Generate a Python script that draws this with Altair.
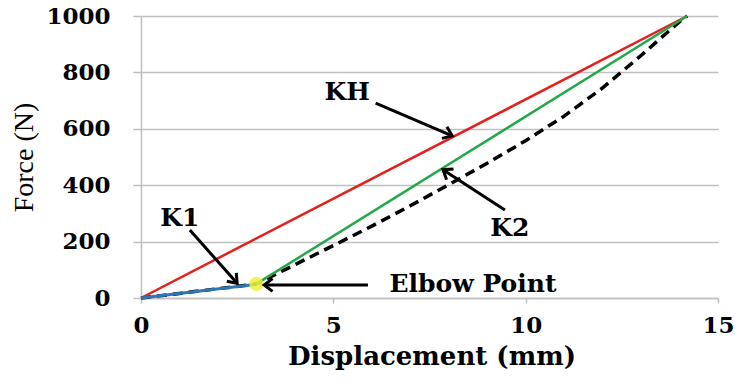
import math
import altair as alt
import pandas as pd

# ---- data ----
dashed_x = [0, 1, 2, 3, 4, 5, 6, 7, 8, 9, 10, 11, 12, 13, 14, 14.2]
dashed_y = [0, 16, 33, 50, 118, 186, 255, 327, 402, 478, 558, 645, 745, 860, 980, 1000]
kh_x = [0, 14.2]
kh_y = [0, 1000]
k2_x = [3.0, 14.2]
k2_y = [50, 1000]
k1_x = [0, 2.95]
k1_y = [0, 48]
elbow_x = [3.0]
elbow_y = [50]

label_text = ["KH", "K1", "K2", "Elbow Point"]
label_x = [5.36, 1.01, 9.59, 8.63]
label_y = [730, 284, 248, 48]

arrow_tail_x = [6.1, 1.27, 9.46, 5.9]
arrow_tail_y = [691, 241, 312, 46]
arrow_tip_x = [8.09, 2.5, 7.85, 3.2]
arrow_tip_y = [575, 52, 455, 46]

x_ticks = [0, 5, 10, 15]
y_ticks = [0, 200, 400, 600, 800, 1000]

W, H = 577, 282
XMAX, YMAX = 15, 1000
FONT = "DejaVu Serif"
GRID = "#bfbfbf"

xs = alt.Scale(domain=[0, XMAX], nice=False, zero=False)
ys = alt.Scale(domain=[0, YMAX], nice=False, zero=False)

xaxis = alt.Axis(values=x_ticks, grid=False, title="Displacement (mm)", format="d",
                 domainColor=GRID, domainWidth=1.5, tickColor=GRID, tickSize=5, tickWidth=1.5,
                 labelFont=FONT, labelFontWeight="bold", labelFontSize=23, labelColor="black",
                 labelPadding=11, labelFlush=False,
                 titleFont=FONT, titleFontWeight="bold", titleFontSize=26, titleColor="black",
                 titleBaseline="alphabetic", titleY=66, titleX=W / 2 + 2)
yaxis = alt.Axis(values=y_ticks, grid=True, gridColor=GRID, gridWidth=1.5, title="Force (N)",
                 format="d",
                 domainColor=GRID, domainWidth=1.5, tickColor=GRID, tickSize=8, tickWidth=1.5,
                 labelFont=FONT, labelFontWeight="bold", labelFontSize=23, labelColor="black",
                 labelPadding=23, labelFlush=False,
                 titleFont="Liberation Serif", titleFontWeight="normal", titleFontSize=28,
                 titleColor="black", titleAngle=270, titleAlign="center", titleBaseline="middle",
                 titleX=-117, titleY=141)


def X(field="x"):
    return alt.X(f"{field}:Q", scale=xs, axis=xaxis)


def Y(field="y"):
    return alt.Y(f"{field}:Q", scale=ys, axis=yaxis)


def line_df(xv, yv):
    return pd.DataFrame({"x": xv, "y": yv})


dashed = alt.Chart(line_df(dashed_x, dashed_y)).mark_line(
    color="black", strokeWidth=3.5, strokeDash=[10, 6]).encode(x=X(), y=Y())
red = alt.Chart(line_df(kh_x, kh_y)).mark_line(color="#e3211c", strokeWidth=2.5).encode(
    x=X(), y=Y())
green = alt.Chart(line_df(k2_x, k2_y)).mark_line(color="#22a84a", strokeWidth=2.5).encode(
    x=X(), y=Y())
blue = alt.Chart(line_df(k1_x, k1_y)).mark_line(color="#2f74b5", strokeWidth=3).encode(
    x=X(), y=Y())
elbow = alt.Chart(line_df(elbow_x, elbow_y)).mark_point(
    filled=True, color="#eef23a", size=200, opacity=0.85).encode(x=X(), y=Y())

sx, sy = W / XMAX, H / YMAX
angles = []
for tx, ty, hx, hy in zip(arrow_tail_x, arrow_tail_y, arrow_tip_x, arrow_tip_y):
    dxp = (hx - tx) * sx
    dyp = -(hy - ty) * sy
    angles.append(math.degrees(math.atan2(dxp, -dyp)) % 360)

arrows_df = pd.DataFrame({"x": arrow_tail_x, "y": arrow_tail_y,
                          "x2": arrow_tip_x, "y2": arrow_tip_y, "angle": angles})
shafts = alt.Chart(arrows_df).mark_rule(color="black", strokeWidth=3).encode(
    x=X(), y=Y(), x2="x2:Q", y2="y2:Q")
heads = alt.Chart(arrows_df).mark_point(
    shape="M-0.9,1.2L0,0L0.9,1.2", filled=False, color="black", strokeWidth=3,
    size=200, opacity=1, strokeJoin="miter").encode(
    x=X("x2"), y=Y("y2"),
    angle=alt.Angle("angle:Q", scale=None))

labels = alt.Chart(pd.DataFrame({"x": label_x, "y": label_y, "t": label_text})).mark_text(
    font=FONT, fontWeight="bold", fontSize=25, color="black", align="center", baseline="middle"
).encode(x=X(), y=Y(), text="t:N")

chart = alt.layer(dashed, red, green, blue, elbow, shafts, heads, labels).properties(
    width=W, height=H,
    autosize=alt.AutoSizeParams(type="none"),
    padding={"left": 141, "top": 16, "right": 17, "bottom": 85},
).configure(background="white", view=alt.ViewConfig(stroke=None))

chart.save("out.html", embed_options={"renderer": "svg", "actions": False})
